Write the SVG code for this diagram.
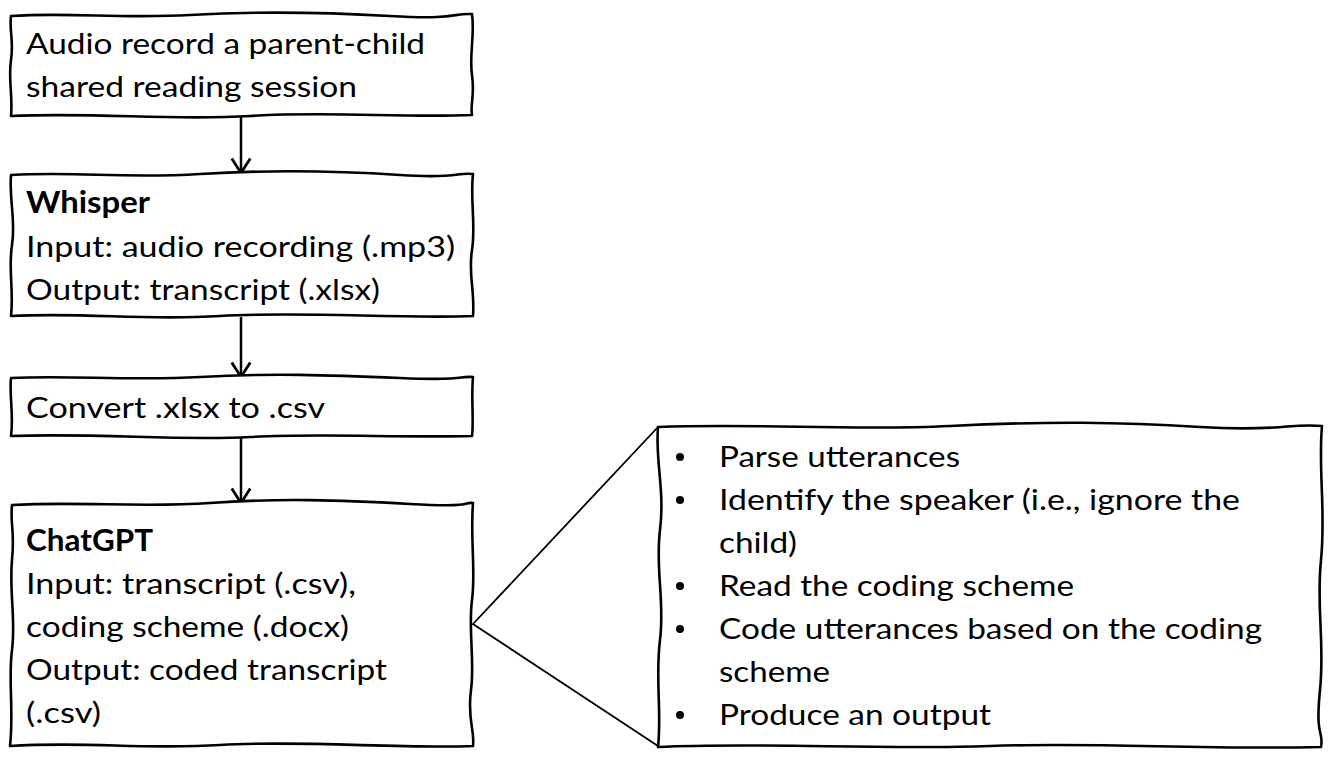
<svg xmlns="http://www.w3.org/2000/svg" width="1332" height="762" viewBox="0 0 1332 762">
<style>
.box{fill:#fff;stroke:#000;stroke-width:2.6;stroke-linejoin:round}
.t{font-family:Lato,"Open Sans","Liberation Sans",sans-serif;font-size:29.5px;fill:#000}
.b{font-weight:bold}
.conn{stroke:#000;stroke-width:2.5;fill:none}
.tri{stroke:#000;stroke-width:1.8;fill:none}
</style>
<defs>
<marker id="arr" markerUnits="userSpaceOnUse" markerWidth="22" markerHeight="22" viewBox="0 0 15 19" refX="13.5" refY="9.5" orient="auto">
<path d="M1,1.5 L13.5,9.5 L1,17.5" fill="none" stroke="#000" stroke-width="2.4"/>
</marker>
</defs>
<rect width="1332" height="762" fill="#fff"/>
<g id="connectors">
<line class="conn" x1="241" y1="116" x2="241" y2="173" marker-end="url(#arr)"/>
<line class="conn" x1="241" y1="317" x2="241" y2="377" marker-end="url(#arr)"/>
<line class="conn" x1="241" y1="437" x2="241" y2="503" marker-end="url(#arr)"/>
<polyline class="tri" points="658,427 473,624 658,746"/>
</g>
<g id="node-audio">
<path class="box" d="M11,16 C70,12 120,19 190,15 S320,12 390,16 S450,13 472,14 C475,35 469,55 472,75 S470,105 472,115 C400,118 330,111 250,116 S100,112 11,116 C13,95 8,80 11,60 S9,30 11,16 Z"/>
<text class="t" x="26" y="54" textLength="399" lengthAdjust="spacingAndGlyphs">Audio record a parent-child</text>
<text class="t" x="26" y="97" textLength="331" lengthAdjust="spacingAndGlyphs">shared reading session</text>
</g>
<g id="node-whisper">
<path class="box" d="M11,175 C80,171 120,179 200,174 S340,171 400,175 S455,172 473,174 C470,200 476,225 472,250 S475,290 473,316 C400,319 300,311 220,316 S90,312 11,316 C14,290 8,270 12,245 S9,200 11,175 Z"/>
<text class="t b" x="26" y="213" textLength="124" lengthAdjust="spacingAndGlyphs">Whisper</text>
<text class="t" x="26" y="257" textLength="429" lengthAdjust="spacingAndGlyphs">Input: audio recording (.mp3)</text>
<text class="t" x="26" y="300" textLength="354" lengthAdjust="spacingAndGlyphs">Output: transcript (.xlsx)</text>
</g>
<g id="node-convert">
<path class="box" d="M11,378 C70,375 130,381 200,377 S330,375 400,378 S455,376 473,377 C471,400 474,420 472,436 C400,438 320,433 250,437 S100,433 11,436 C14,415 9,395 11,378 Z"/>
<text class="t" x="26" y="418" textLength="299" lengthAdjust="spacingAndGlyphs">Convert .xlsx to .csv</text>
</g>
<g id="node-chatgpt">
<path class="box" d="M12,505 C80,501 140,508 210,503 S340,500 410,504 S460,502 473,503 C470,540 476,570 472,600 S475,660 471,690 S475,730 473,746 C400,749 300,740 220,745 S90,741 10,746 C14,710 8,680 12,650 S9,590 12,560 S10,525 12,505 Z"/>
<text class="t b" x="26" y="551" textLength="127" lengthAdjust="spacingAndGlyphs">ChatGPT</text>
<text class="t" x="26" y="594" textLength="330" lengthAdjust="spacingAndGlyphs">Input: transcript (.csv),</text>
<text class="t" x="26" y="637" textLength="323" lengthAdjust="spacingAndGlyphs">coding scheme (.docx)</text>
<text class="t" x="26" y="680" textLength="361" lengthAdjust="spacingAndGlyphs">Output: coded transcript</text>
<text class="t" x="26" y="723" textLength="75" lengthAdjust="spacingAndGlyphs">(.csv)</text>
</g>
<g id="node-steps">
<path class="box" d="M658,427 C760,423 850,431 950,426 S1120,422 1200,427 S1290,423 1322,426 C1318,470 1326,510 1321,560 S1325,640 1320,690 S1324,730 1321,747 C1200,750 1100,742 990,746 S760,742 658,747 C662,710 655,680 660,640 S655,570 660,530 S655,460 658,427 Z"/>
<g fill="#000">
<circle cx="680" cy="457" r="4"/>
<circle cx="680" cy="500" r="4"/>
<circle cx="680" cy="586" r="4"/>
<circle cx="680" cy="629" r="4"/>
<circle cx="680" cy="715" r="4"/>
</g>
<text class="t" x="719" y="467" textLength="241" lengthAdjust="spacingAndGlyphs">Parse utterances</text>
<text class="t" x="719" y="510" textLength="521" lengthAdjust="spacingAndGlyphs">Identify the speaker (i.e., ignore the</text>
<text class="t" x="719" y="553" textLength="78" lengthAdjust="spacingAndGlyphs">child)</text>
<text class="t" x="719" y="596" textLength="355" lengthAdjust="spacingAndGlyphs">Read the coding scheme</text>
<text class="t" x="719" y="639" textLength="543" lengthAdjust="spacingAndGlyphs">Code utterances based on the coding</text>
<text class="t" x="719" y="682" textLength="111" lengthAdjust="spacingAndGlyphs">scheme</text>
<text class="t" x="719" y="725" textLength="272" lengthAdjust="spacingAndGlyphs">Produce an output</text>
</g>
</svg>
